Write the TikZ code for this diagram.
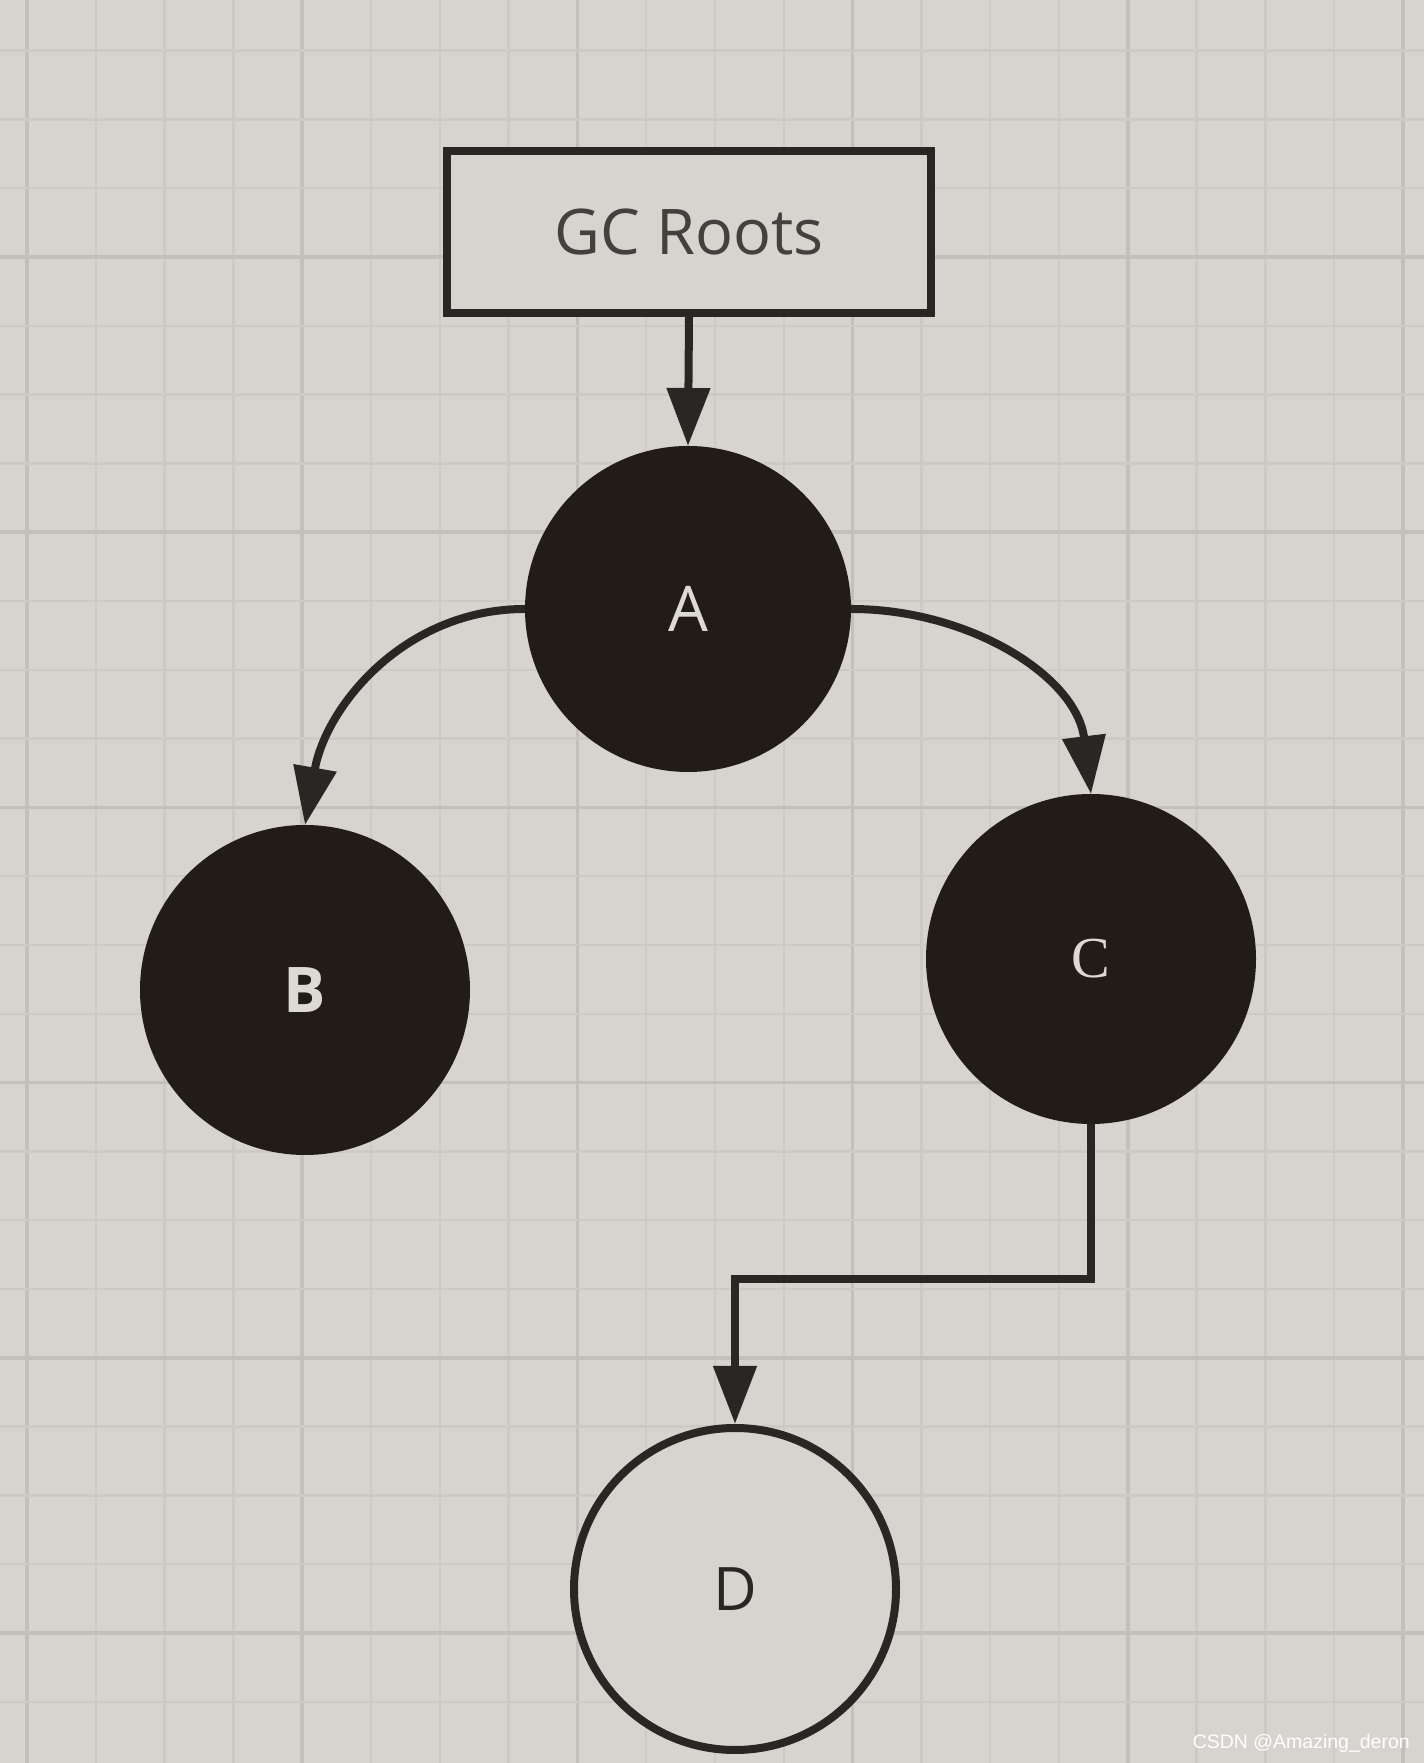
\documentclass[tikz,border=0pt]{standalone}
\usepackage{fontspec}
\setmainfont{Open Sans}
\newfontfamily\serifC{Liberation Serif}
\newfontfamily\wmfont{Liberation Sans}
\usetikzlibrary{arrows.meta}
\definecolor{bgc}{HTML}{D7D3CE}
\definecolor{minorc}{HTML}{CDC9C4}
\definecolor{majorc}{HTML}{C3BFBA}
\definecolor{ink}{HTML}{221C19}
\definecolor{linec}{HTML}{2A2623}
\definecolor{lettc}{HTML}{DDD9D3}
\tikzset{
  minorline/.style={draw=minorc, line width=2.5pt},
  majorline/.style={draw=majorc, line width=3.5pt},
  rootbox/.style={draw=linec, line width=8pt, fill=bgc, rectangle,
    minimum width=484pt, minimum height=162pt, inner sep=0pt,
    font=\fontsize{63}{70}\selectfont, text=linec!85!bgc},
  blackdot/.style={circle, draw=ink, fill=ink, line width=8pt, inner sep=0pt,
    text=lettc, font=\fontsize{63}{70}\selectfont},
  whitedot/.style={circle, draw=linec, fill=bgc, line width=8pt, inner sep=0pt,
    text=linec, font=\fontsize{60}{66}\selectfont},
  arr/.style={draw=linec, line width=8pt,
    -{Triangle[length=58pt, width=42pt]}},
  wmark/.style={text=white, inner sep=0pt, anchor=base east,
    font=\wmfont\fontsize{19.5}{21}\selectfont}
}
\begin{document}
\begin{tikzpicture}[x=1pt, y=1pt]
\useasboundingbox (0,0) rectangle (1424,1763);
\fill[bgc] (0,0) rectangle (1424,1763);
% grid
\foreach \k in {0,...,20} {
  \pgfmathsetmacro\xx{27+68.8*\k}
  \pgfmathtruncatemacro\mm{mod(\k,4)}
  \ifnum\mm=0
    \draw[majorline] (\xx,0) -- (\xx,1763);
  \else
    \draw[minorline] (\xx,0) -- (\xx,1763);
  \fi
}
\foreach \k in {-3,...,21} {
  \pgfmathsetmacro\yy{1506-68.8*\k}
  \pgfmathtruncatemacro\mm{mod(\k+400,4)}
  \ifnum\mm=0
    \draw[majorline] (0,\yy) -- (1424,\yy);
  \else
    \draw[minorline] (0,\yy) -- (1424,\yy);
  \fi
}
% nodes
\node[rootbox] (gc) at (689,1531) {GC Roots};
\node[blackdot, minimum size=318pt] (A) at (688,1154) {A};
\node[blackdot, minimum size=322pt, font=\bfseries\fontsize{63}{70}\selectfont] (B) at (305,773) {B};
\node[blackdot, minimum size=322pt, font=\serifC\fontsize{58}{64}\selectfont] (C) at (1091,804) {C};
\node[whitedot, minimum size=322pt] (D) at (735,174) {D};
\coordinate (m) at (735,484);
% connectors
\draw[arr] (gc.south) -- (A.north);
\draw[arr] (A.west) to[out=180, in=80] (B.north);
\draw[arr] (A.east) to[out=0, in=97] (C.north);
\draw[arr] (C.south) |- (m) -- (D.north);
% watermark
\node[wmark] (wm) at (1410,14) {CSDN @Amazing\_deron};
\end{tikzpicture}
\end{document}
